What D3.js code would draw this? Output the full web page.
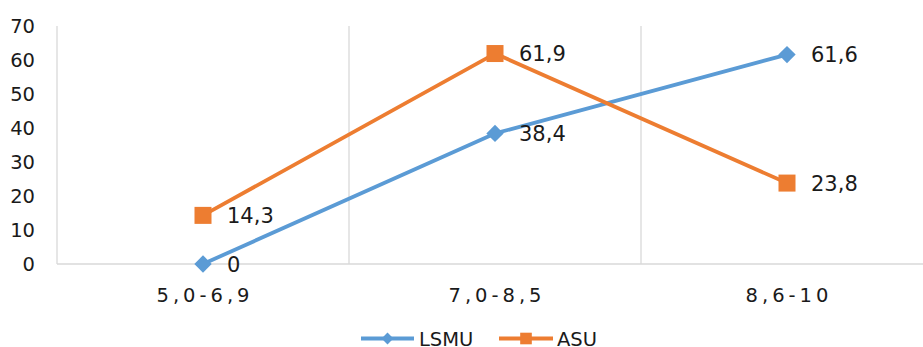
<!DOCTYPE html>
<html>
<head>
<meta charset="utf-8">
<script src="https://cdn.jsdelivr.net/npm/d3@7"></script>
<style>
  html, body { margin: 0; padding: 0; background: #fff; }
  svg { display: block; font-family: "DejaVu Sans", Verdana, sans-serif; }
</style>
</head>
<body>
<svg id="chart" width="923" height="347"></svg>
<script>
const categories = ["5,0-6,9", "7,0-8,5", "8,6-10"];
const seriesNames = ["LSMU", "ASU"];
const lsmuValues = [0, 38.4, 61.6];
const asuValues = [14.3, 61.9, 23.8];
const yTicks = [0, 10, 20, 30, 40, 50, 60, 70];
const colors = ["#5B9BD5", "#ED7D31"];

const svg = d3.select("#chart");
const margin = { left: 57, right: -10, top: 26, bottom: 83 };
const W = 923, H = 347;

const x = d3.scaleBand().domain(categories).range([margin.left, W - margin.right]).paddingInner(0).paddingOuter(0);
const y = d3.scaleLinear().domain([0, 70]).range([H - margin.bottom, margin.top]);

// gridlines: vertical category separators
const bounds = [x.range()[0]].concat(categories.map(c => x(c) + x.bandwidth()));
svg.append("g").selectAll("line").data(bounds).join("line")
  .attr("x1", d => d).attr("x2", d => d)
  .attr("y1", y(70)).attr("y2", y(0))
  .attr("stroke", "#d9d9d9").attr("stroke-width", 1.3);

// bottom axis line
svg.append("line")
  .attr("x1", x.range()[0]).attr("x2", x.range()[1])
  .attr("y1", y(0)).attr("y2", y(0))
  .attr("stroke", "#d9d9d9").attr("stroke-width", 1.3);

// y tick labels
svg.append("g").selectAll("text").data(yTicks).join("text")
  .attr("x", 35).attr("y", d => y(d))
  .attr("dy", "0.36em")
  .attr("text-anchor", "end")
  .attr("font-size", 19.5)
  .attr("fill", "#1a1a1a")
  .text(d => d);

// x labels
svg.append("g").selectAll("text").data(categories).join("text")
  .attr("x", d => x(d) + x.bandwidth() / 2 + 2)
  .attr("y", 302)
  .attr("text-anchor", "middle")
  .attr("font-size", 19.5)
  .attr("letter-spacing", 4)
  .attr("fill", "#1a1a1a")
  .text(d => d);

const cx = d => x(d) + x.bandwidth() / 2;
const allSeries = [lsmuValues, asuValues];
const line = d3.line().x((d, i) => cx(categories[i])).y(d => y(d));

function drawMarker(g, k, px, py, scale) {
  if (k === 0) {
    g.append("path").attr("d", d3.symbol().type(d3.symbolSquare).size(scale)())
      .attr("transform", `translate(${px},${py}) rotate(45)`)
      .attr("fill", colors[0]);
  } else {
    const s = Math.sqrt(scale);
    g.append("rect").attr("x", px - s / 2).attr("y", py - s / 2)
      .attr("width", s).attr("height", s).attr("fill", colors[1]);
  }
}

allSeries.forEach((vals, k) => {
  const g = svg.append("g");
  g.append("path").datum(vals)
    .attr("d", line)
    .attr("fill", "none")
    .attr("stroke", colors[k])
    .attr("stroke-width", 3.8)
    .attr("stroke-linejoin", "round");
  vals.forEach((v, i) => {
    drawMarker(g, k, cx(categories[i]), y(v), k === 0 ? 150 : 289);
  });
  g.selectAll("text").data(vals).join("text")
    .attr("x", (d, i) => cx(categories[i]) + 24)
    .attr("y", d => y(d))
    .attr("dy", "0.36em")
    .attr("font-size", 21)
    .attr("fill", "#1a1a1a")
    .text(d => String(d).replace(".", ","));
});

// legend
const legendY = 338.5;
const legendItems = [
  { name: seriesNames[0], x1: 361, x2: 414, tx: 419 },
  { name: seriesNames[1], x1: 499, x2: 553, tx: 557 }
];
legendItems.forEach((it, k) => {
  const g = svg.append("g");
  g.append("line").attr("x1", it.x1).attr("x2", it.x2)
    .attr("y1", legendY).attr("y2", legendY)
    .attr("stroke", colors[k]).attr("stroke-width", 3.8);
  drawMarker(g, k, (it.x1 + it.x2) / 2, legendY, k === 0 ? 70 : 135);
  g.append("text").attr("x", it.tx).attr("y", legendY).attr("dy", "0.36em")
    .attr("font-size", 19.5).attr("fill", "#1a1a1a").text(it.name);
});
</script>
</body>
</html>
